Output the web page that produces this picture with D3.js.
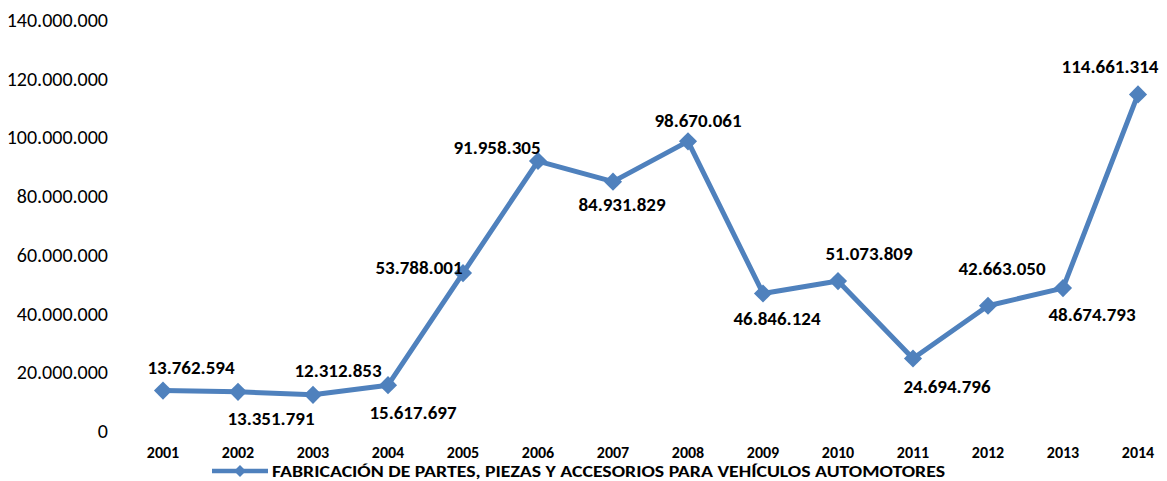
<!DOCTYPE html>
<html>
<head>
<meta charset="utf-8">
<script src="https://cdn.jsdelivr.net/npm/d3@7"></script>
<style>
  body { margin: 0; background: #fff; }
  svg text { font-family: Carlito, Lato, "Open Sans", sans-serif; fill: #000; }
</style>
</head>
<body>
<svg id="chart" width="1167" height="481"></svg>
<script>
// Producción anual por año
const years = ['2001','2002','2003','2004','2005','2006','2007','2008','2009','2010','2011','2012','2013','2014'];
const values = [13762594, 13351791, 12312853, 15617697, 53788001, 91958305, 84931829, 98670061, 46846124, 51073809, 24694796, 42663050, 48674793, 114661314];
const yTicks = [0, 20000000, 40000000, 60000000, 80000000, 100000000, 120000000, 140000000];
const seriesName = 'FABRICACIÓN DE PARTES, PIEZAS Y ACCESORIOS PARA VEHÍCULOS AUTOMOTORES';

const svg = d3.select('#chart');
const color = '#4f81bd';

const x = d3.scalePoint().domain(years).range([163, 1138]);
const y = d3.scaleLinear().domain([0, 140000000]).range([431, 20]);

// formato con puntos de miles
const fmt = n => d3.format(',')(n).replace(/,/g, '.');

// eje Y (solo etiquetas)
svg.append('g').selectAll('text').data(yTicks).enter().append('text')
  .attr('x', 108).attr('y', d => y(d))
  .attr('dy', '0.35em')
  .attr('text-anchor', 'end')
  .style('font-size', '20px')
  .text(d => fmt(d));

// eje X
svg.append('g').selectAll('text').data(years).enter().append('text')
  .attr('x', d => x(d)).attr('y', 452)
  .attr('dy', '0.35em')
  .attr('text-anchor', 'middle')
  .style('font-size', '16px').style('font-weight', 'bold')
  .text(d => d);

// línea
const line = d3.line().x((d, i) => x(years[i])).y(d => y(d));
svg.append('path').datum(values)
  .attr('d', line)
  .attr('fill', 'none')
  .attr('stroke', color)
  .attr('stroke-width', 5)
  .attr('stroke-linejoin', 'round');

const diamond = d3.symbol().type(d3.symbolDiamond2).size(210);
svg.append('g').selectAll('path').data(values).enter().append('path')
  .attr('d', diamond)
  .attr('transform', (d, i) => `translate(${x(years[i])},${y(d)})`)
  .attr('fill', color);

// desplazamiento de cada etiqueta respecto a su punto
const labelOffset = [
  [28, -23], [33, 27], [25, -25], [25, 27], [-44, -6], [-41, -14], [9, 23], [10, -21],
  [14, 25], [31, -28], [34, 28], [14, -37], [29, 26], [-28, -28]
];

svg.append('g').selectAll('text').data(values).enter().append('text')
  .attr('x', (d, i) => x(years[i]) + labelOffset[i][0])
  .attr('y', (d, i) => y(d) + labelOffset[i][1])
  .attr('dy', '0.35em')
  .attr('text-anchor', 'middle')
  .style('font-size', '19px').style('font-weight', 'bold')
  .text(d => fmt(d));

// leyenda
const lg = svg.append('g');
lg.append('line').attr('x1', 212).attr('x2', 268).attr('y1', 471).attr('y2', 471)
  .attr('stroke', color).attr('stroke-width', 4.5);
lg.append('path').attr('d', d3.symbol().type(d3.symbolDiamond2).size(90))
  .attr('transform', 'translate(240,471)').attr('fill', color);
lg.append('text').attr('x', 272).attr('y', 471).attr('dy', '0.35em')
  .attr('textLength', 673).attr('lengthAdjust', 'spacingAndGlyphs')
  .style('font-size', '16px').style('font-weight', 'bold')
  .text(seriesName);
</script>
</body>
</html>
